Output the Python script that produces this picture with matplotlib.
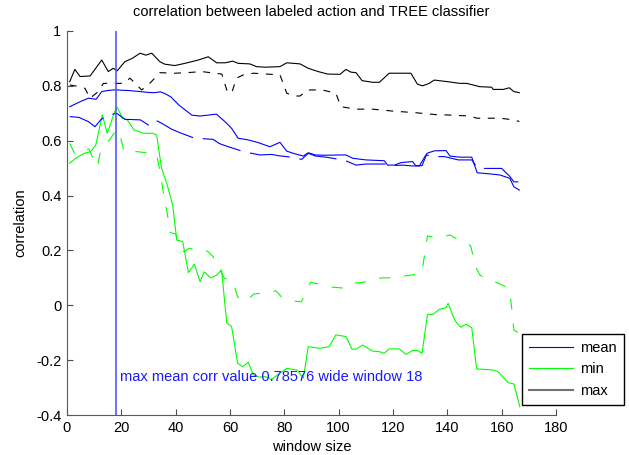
import matplotlib
matplotlib.use("Agg")
import matplotlib.pyplot as plt

plt.rcParams['font.family'] = ['Liberation Sans', 'DejaVu Sans']
plt.rcParams['lines.scale_dashes'] = False

# mean (solid) and second mean curve (dashed)
mean_x = [1, 4.8, 7.9, 10.7, 12.8, 15, 18, 20, 22.6, 25, 27, 30, 32, 34.5, 36, 38.2, 41.2, 44.3, 46, 49,
          52.5, 55, 58.2, 60.6, 63, 66.7, 70.4, 74.7, 78.4, 80.9, 83.3, 87, 88.8, 91.5, 95, 100, 102.7,
          105.2, 110, 116.8, 118, 120.5, 122.9, 127.2, 128.4, 130.7, 132.5, 135.2, 139.5, 141, 144.6, 149,
          151, 155.7, 159.4, 163, 164.5, 166.5]
mean_y = [0.724, 0.742, 0.755, 0.751, 0.779, 0.783, 0.78576, 0.784, 0.783, 0.781, 0.779, 0.776, 0.775,
          0.778, 0.772, 0.76, 0.73, 0.706, 0.693, 0.69, 0.694, 0.697, 0.669, 0.645, 0.609, 0.603, 0.593,
          0.578, 0.594, 0.562, 0.554, 0.544, 0.556, 0.548, 0.547, 0.548, 0.548, 0.536, 0.53, 0.527, 0.511,
          0.511, 0.52, 0.524, 0.509, 0.509, 0.554, 0.563, 0.564, 0.544, 0.54, 0.54, 0.483, 0.479, 0.475,
          0.463, 0.432, 0.42]

mean2_x = [1, 4.4, 8, 10.3, 12.4, 14.4, 16, 18.3, 21.3, 27, 30.5, 33, 35.5, 38.5, 41.6, 47, 53.8, 56,
           58.8, 65, 71, 75.3, 78, 81, 86.4, 88.8, 91.5, 95.3, 101.5, 103.3, 106.4, 110, 117.4, 119.2,
           123.5, 127.2, 129.7, 132.1, 135.8, 139, 144, 149, 150.8, 152, 160, 163, 164.5, 166.5]
mean2_y = [0.688, 0.685, 0.669, 0.651, 0.676, 0.69, 0.695, 0.70, 0.678, 0.676, 0.654, 0.673, 0.66, 0.642,
           0.629, 0.609, 0.605, 0.59, 0.58, 0.56, 0.548, 0.55, 0.545, 0.542, 0.532, 0.554, 0.544, 0.54,
           0.53, 0.524, 0.511, 0.515, 0.515, 0.509, 0.511, 0.508, 0.508, 0.548, 0.542, 0.542, 0.53, 0.53,
           0.505, 0.499, 0.499, 0.47, 0.45, 0.45]

# min (solid) and dashed
min_x = [1, 3.2, 6.3, 8.7, 10.6, 13, 14.8, 16.1, 17.3, 18.5, 20.4, 22.2, 24.7, 26.5, 28.3, 31.4, 33,
         34.8, 36.7, 38.9, 40.4, 42.6, 44.7, 46.9, 49, 50.5, 52.9, 55.1, 56.9, 58.8, 60.6, 62.8, 64.6,
         66.7, 68.6, 71, 73, 75.3, 78, 80.9, 84.7, 87, 88.8, 93.1, 96.5, 99, 102.7, 104.9, 106.4, 108.8,
         112.5, 115, 116.8, 118.6, 122.3, 124.8, 127.2, 129.1, 130.7, 132.7, 134.8, 137, 139.5, 140.3,
         142.8, 144.9, 146.9, 149, 150.8, 156.9, 158.7, 162.4, 164.5, 166.7]
min_y = [0.518, 0.536, 0.554, 0.56, 0.584, 0.694, 0.627, 0.663, 0.70, 0.722, 0.682, 0.676, 0.639, 0.633,
         0.627, 0.627, 0.621, 0.50, 0.445, 0.366, 0.238, 0.232, 0.119, 0.15, 0.086, 0.122, 0.10, 0.11,
         0.129, -0.063, -0.078, -0.211, -0.224, -0.208, -0.254, -0.262, -0.26, -0.27, -0.25, -0.23,
         -0.236, -0.266, -0.151, -0.157, -0.151, -0.108, -0.114, -0.16, -0.16, -0.145, -0.167, -0.169,
         -0.175, -0.159, -0.159, -0.179, -0.165, -0.165, -0.175, -0.033, -0.033, -0.015, -0.009, 0.007,
         -0.056, -0.08, -0.069, -0.082, -0.232, -0.236, -0.242, -0.282, -0.287, -0.37]

min2_x = [1, 3, 5, 8, 9.9, 11.2, 12.4, 13.4, 16.1, 17.3, 19, 20.4, 21, 26, 30, 33, 34, 35.5, 37, 38, 40,
          41, 43, 45, 48, 50.2, 52, 53.8, 55.3, 58, 61, 62.8, 64.9, 66.7, 68.8, 72, 74.7, 76.9, 79, 81.4,
          86.3, 87.6, 89.7, 92.5, 95, 97.8, 102.7, 104.9, 108, 110.7, 113.1, 116, 118.6, 123, 126.6,
          130.7, 130.9, 131.9, 132.7, 135.2, 138, 141, 143.2, 146, 148.6, 150.5, 152, 154.2, 156.3, 159,
          161.8, 163, 163.7, 164.5, 166]
min2_y = [0.59, 0.55, 0.56, 0.57, 0.53, 0.505, 0.566, 0.578, 0.609, 0.627, 0.64, 0.584, 0.56, 0.56,
          0.555, 0.55, 0.50, 0.41, 0.33, 0.265, 0.26, 0.23, 0.195, 0.208, 0.20, 0.204, 0.195, 0.177,
          0.147, 0.098, 0.09, 0.031, 0.013, 0.022, 0.041, 0.045, 0.046, 0.053, 0.03, 0.017, 0.013, 0.041,
          0.084, 0.078, 0.07, 0.066, 0.062, 0.08, 0.083, 0.086, 0.096, 0.10, 0.10, 0.105, 0.11, 0.117,
          0.139, 0.20, 0.253, 0.248, 0.25, 0.256, 0.244, 0.235, 0.216, 0.139, 0.11, 0.098, 0.089, 0.08,
          0.066, 0.05, -0.011, -0.09, -0.1]

# max (solid) and dashed
max_x = [1, 2.9, 4.8, 8.5, 12.8, 15.2, 17, 18.5, 21.3, 24, 26.9, 29, 31.2, 34.2, 36, 39.7, 43.4, 48.3,
         52, 55.1, 58.2, 61, 63, 67.3, 69.8, 72.9, 78.4, 80.9, 85.8, 88.8, 92.5, 95.9, 100.5, 102.7,
         104.5, 106.4, 108.6, 112.5, 115, 118.6, 126.6, 129, 130.9, 133.3, 135.2, 140.3, 144.6, 147.1,
         152, 156.3, 156.9, 160.6, 162.8, 164.5, 166.5]
max_y = [0.815, 0.86, 0.834, 0.836, 0.894, 0.852, 0.864, 0.855, 0.888, 0.90, 0.919, 0.912, 0.919, 0.888,
         0.879, 0.874, 0.882, 0.894, 0.906, 0.884, 0.884, 0.89, 0.882, 0.88, 0.87, 0.868, 0.87, 0.884,
         0.88, 0.864, 0.852, 0.843, 0.842, 0.86, 0.85, 0.848, 0.819, 0.813, 0.813, 0.846, 0.846, 0.806,
         0.80, 0.809, 0.821, 0.815, 0.809, 0.809, 0.797, 0.795, 0.787, 0.787, 0.793, 0.779, 0.775]

max2_x = [1, 3, 6.6, 8.5, 11.5, 13.4, 17, 20.7, 23.2, 25.5, 27.5, 29.9, 34.2, 39.7, 44, 49.6, 54.5, 57,
          58.8, 60.6, 62.4, 64.9, 68.6, 73.5, 78.4, 80.9, 83.9, 85.8, 88.7, 94, 99, 100.8, 106.4, 112.5,
          119.9, 128.4, 137, 139.8, 148.3, 150.8, 159.4, 164.5, 166.5]
max2_y = [0.803, 0.80, 0.791, 0.755, 0.779, 0.809, 0.809, 0.809, 0.828, 0.805, 0.785, 0.803, 0.848,
          0.846, 0.848, 0.852, 0.846, 0.843, 0.785, 0.773, 0.828, 0.84, 0.846, 0.843, 0.84, 0.773, 0.763,
          0.763, 0.785, 0.785, 0.773, 0.724, 0.715, 0.715, 0.708, 0.702, 0.694, 0.694, 0.69, 0.682,
          0.682, 0.676, 0.67]

best_window = 18
best_value = 0.78576

fig = plt.figure(figsize=(6.29, 4.55), dpi=100)
ax = fig.add_axes([0.1065, 0.0879, 0.7774, 0.844])

fs = 10.5
lw = 0.8
ax.plot(mean_x, mean_y, color='b', lw=lw, label='mean')
ax.plot(min_x, min_y, color='#00ff00', lw=lw, label='min')
ax.plot(max_x, max_y, color='k', lw=lw, label='max')
ax.plot(mean2_x, mean2_y, color='b', lw=lw, linestyle=(0, (29, 7)))
ax.plot(min2_x, min2_y, color='#00ff00', lw=lw, linestyle=(0, (8, 10)))
ax.plot(max2_x, max2_y, color='k', lw=lw, linestyle=(0, (5, 5.5)))

ax.axvline(best_window, color='#5555ff', lw=1.2)
ax.text(best_window + 1.6, -0.262,
        'max mean corr value %.5f wide window %d' % (best_value, best_window),
        color='#1a1aff', fontsize=fs, va='center', ha='left')

ax.set_xlim(0, 180)
ax.set_ylim(-0.4, 1)
ax.set_xticks(range(0, 181, 20))
ax.set_yticks([-0.4, -0.2, 0, 0.2, 0.4, 0.6, 0.8, 1])
ax.set_yticklabels(['-0.4', '-0.2', '0', '0.2', '0.4', '0.6', '0.8', '1'])
ax.tick_params(direction='in', length=4, width=0.8, labelsize=fs, pad=4, color='0.3')
ax.spines['top'].set_visible(False)
ax.spines['right'].set_visible(False)
ax.spines['left'].set_color('0.35')
ax.spines['bottom'].set_color('0.35')

ax.set_title('correlation between labeled action and TREE classifier', fontsize=fs, pad=11)
ax.set_xlabel('window size', fontsize=fs, labelpad=4)
ax.set_ylabel('correlation', fontsize=fs, labelpad=6)

leg = ax.legend(loc='lower left', bbox_to_anchor=(522 / 629, 50 / 455), bbox_transform=fig.transFigure,
                borderaxespad=0, fancybox=False, edgecolor='k', framealpha=1, fontsize=fs,
                handlelength=3.0, handletextpad=0.5, labelspacing=0.5, borderpad=0.5)
leg.get_frame().set_linewidth(1.0)
leg.get_lines()[2].set_color('0.45')
leg.get_lines()[2].set_linewidth(1.5)

fig.savefig('out.png', dpi=100)
